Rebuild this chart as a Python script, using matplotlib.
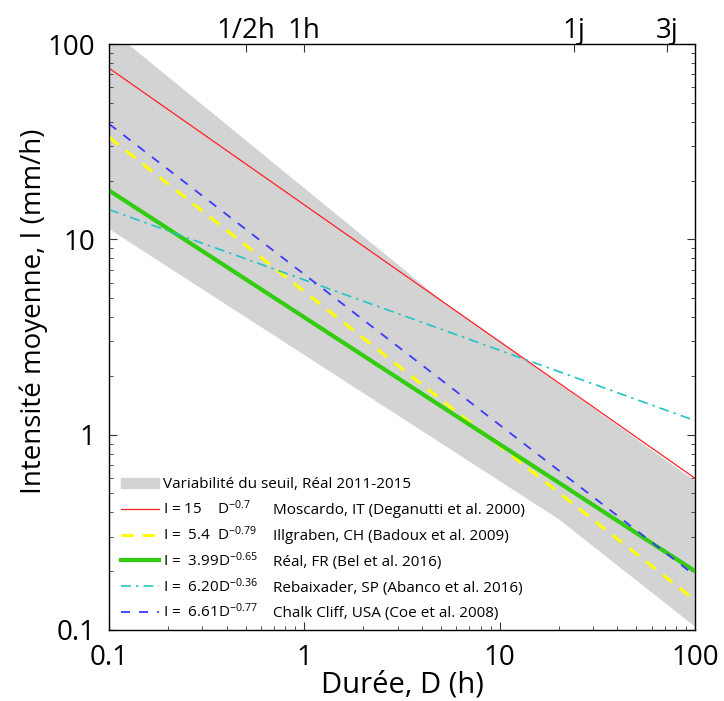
import numpy as np
import matplotlib
matplotlib.use('Agg')
import matplotlib.pyplot as plt
from matplotlib.patches import Patch
from matplotlib.lines import Line2D

plt.rcParams['font.family'] = ['Open Sans', 'DejaVu Sans']
plt.rcParams['mathtext.fontset'] = 'custom'
plt.rcParams['mathtext.rm'] = 'Open Sans'
plt.rcParams['mathtext.it'] = 'Open Sans'
plt.rcParams['mathtext.bf'] = 'Open Sans'

# data
durations = [0.1, 100]
i_moscardo = [75.2, 0.598]
i_illgraben = [33.3, 0.142]
i_real = [17.8, 0.200]
i_rebaixader = [14.2, 1.18]
i_chalk = [39.0, 0.190]

# threshold variability band (envelope vertices)
band_upper_d = [0.1, 5.0, 100]
band_upper_i = [120, 4.9, 0.58]
band_lower_d = [0.1, 20.0, 100]
band_lower_i = [11.3, 0.37, 0.104]

eq_labels = ['I = 15    D$^{-0.7}$', 'I =  5.4  D$^{-0.79}$', 'I =  3.99D$^{-0.65}$',
             'I =  6.20D$^{-0.36}$', 'I =  6.61D$^{-0.77}$']
site_labels = ['Moscardo, IT (Deganutti et al. 2000)', 'Illgraben, CH (Badoux et al. 2009)',
               'Réal, FR (Bel et al. 2016)', 'Rebaixader, SP (Abanco et al. 2016)',
               'Chalk Cliff, USA (Coe et al. 2008)']
band_label = 'Variabilité du seuil, Réal 2011-2015'

top_ticks = [0.5, 1, 24, 72]
top_labels = ['1/2h', '1h', '1j', '3j']

fig = plt.figure(figsize=(7.24, 7.01), dpi=100)
ax = fig.add_axes([0.1506, 0.1013, 0.8094, 0.8359])

band_x = band_upper_d + band_lower_d[::-1]
band_y = band_upper_i + band_lower_i[::-1]
ax.fill(band_x, band_y, color='#d3d3d3', lw=0, zorder=1)

ax.plot(durations, i_moscardo, color='#ff2020', lw=0.9, zorder=3)
ax.plot(durations, i_illgraben, color='#ffff00', lw=2.2, ls=(0, (4, 3)), zorder=3)
ax.plot(durations, i_real, color='#33cc11', lw=3, zorder=3)
ax.plot(durations, i_rebaixader, color='#22c4c4', lw=1.2, ls=(0, (6, 3, 1.5, 3)), zorder=3)
ax.plot(durations, i_chalk, color='#3a3aff', lw=1.3, ls=(0, (5, 5)), zorder=4)

ax.set_xscale('log')
ax.set_yscale('log')
ax.set_xlim(0.1, 100)
ax.set_ylim(0.1, 100)
ax.set_xticks([0.1, 1, 10, 100])
ax.set_xticklabels(['0.1', '1', '10', '100'])
ax.set_yticks([0.1, 1, 10, 100])
ax.set_yticklabels(['0.1', '1', '10', '100'])
ax.tick_params(which='both', direction='in', labelsize=20, color='#333333')
ax.tick_params(which='major', length=6, pad=10)
ax.tick_params(which='minor', length=3)
ax.tick_params(axis='y', which='both', right=True)
for s in ax.spines.values():
    s.set_color('#333333')
    s.set_linewidth(1)

ax.set_xlabel('Durée, D (h)', fontsize=21, labelpad=-1)
ax.set_ylabel('Intensité moyenne, I (mm/h)', fontsize=20, labelpad=1)
ax.yaxis.set_label_coords(-0.105, 0.544)

top = ax.twiny()
top.set_xscale('log')
top.set_xlim(0.1, 100)
top.set_xticks(top_ticks)
top.set_xticklabels(top_labels)
top.xaxis.set_minor_locator(matplotlib.ticker.NullLocator())
top.tick_params(direction='in', length=6, labelsize=20, pad=-1, color='#333333')

handles = [Patch(color='#d3d3d3'),
           Line2D([], [], color='#ff2020', lw=0.9),
           Line2D([], [], color='#ffff00', lw=2.2, ls=(0, (4, 3))),
           Line2D([], [], color='#33cc11', lw=3),
           Line2D([], [], color='#22c4c4', lw=1.2, ls=(0, (6, 3, 1.5, 3))),
           Line2D([], [], color='#3a3aff', lw=1.3, ls=(0, (5, 5)))]
leg = ax.legend(handles, [band_label] + eq_labels, loc='lower left',
                bbox_to_anchor=(0.0, -0.006), frameon=False, fontsize=11,
                handlelength=2.5, handletextpad=0.2, labelspacing=0.47,
                borderaxespad=0.4)

fig.canvas.draw()
site_x = 273
inv = ax.transAxes.inverted()
for t, site in zip(leg.get_texts()[1:], site_labels):
    base = t.get_transform().transform(t.get_position())
    xa, ya = inv.transform((site_x, base[1]))
    ax.text(xa, ya, site, transform=ax.transAxes, fontsize=11,
            va=t.get_va(), zorder=5)

fig.savefig('out.png', dpi=100)
